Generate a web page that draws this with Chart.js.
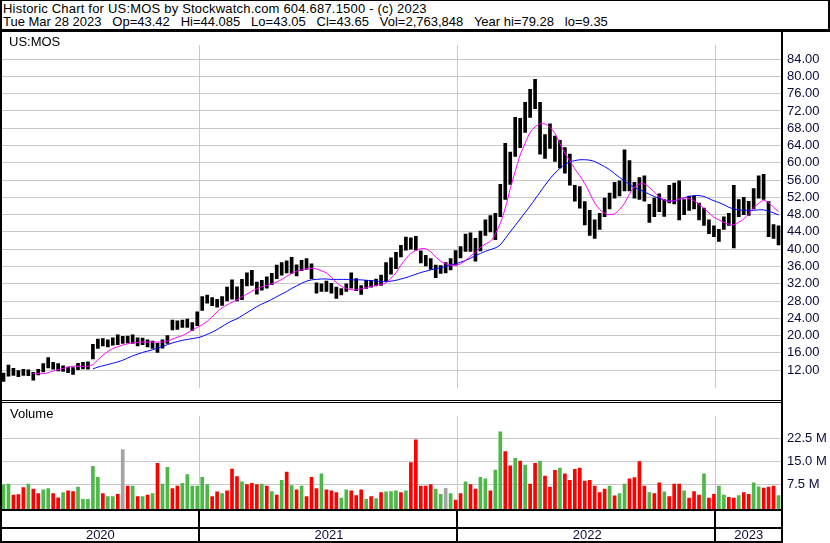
<!DOCTYPE html>
<html>
<head>
<meta charset="utf-8">
<title>US:MOS</title>
<script src="https://cdn.jsdelivr.net/npm/chart.js@4.4.1/dist/chart.umd.min.js"></script>
<style>
  body { margin: 0; background: #fff; }
  #page { position: relative; width: 830px; height: 543px; overflow: hidden; font-family: Arial, "Liberation Sans", sans-serif; font-size: 13px; color: #000; }
  .txt { position: absolute; white-space: pre; line-height: 14px; }
  .ln { position: absolute; background: #000; }
  canvas { position: absolute; left: 0; }
</style>
</head>
<body>
<div id="page">
  <canvas id="priceChart" width="830" height="371" style="top:31px"></canvas>
  <canvas id="volChart" width="830" height="141" style="top:402px"></canvas>

  <div class="txt" style="left:3px;top:2px;letter-spacing:0.2px">Historic Chart for US:MOS by Stockwatch.com 604.687.1500 - (c) 2023</div>
  <div class="txt" style="left:3px;top:15px">Tue Mar 28 2023   Op=43.42   Hi=44.085   Lo=43.05   Cl=43.65   Vol=2,763,848   Year hi=79.28   lo=9.35</div>
  <div class="txt" style="left:9px;top:35px">US:MOS</div>
  <div class="txt" style="left:10px;top:407px">Volume</div>

  <!-- frame lines -->
  <div class="ln" style="left:0;top:0;width:830px;height:1px"></div>
  <div class="ln" style="left:828px;top:0;width:2px;height:31px"></div>
  <div class="ln" style="left:0;top:29px;width:830px;height:3px"></div>
  <div class="ln" style="left:0;top:0;width:2px;height:543px"></div>
  <div class="ln" style="left:781px;top:31px;width:2px;height:512px"></div>
  <div class="ln" style="left:0;top:400px;width:782px;height:1px"></div>
  <div class="ln" style="left:0;top:402px;width:782px;height:1px"></div>
  <div class="ln" style="left:0;top:509px;width:782px;height:2px"></div>
  <div class="ln" style="left:0;top:527px;width:782px;height:2px"></div>
  <div class="ln" style="left:0;top:541px;width:782px;height:2px"></div>
</div>

<script>
// weekly lows / highs (one value per week from 2020-03-30)
const lo = [9.4,10.6,10.8,10.5,10.8,10.7,9.7,10.9,11.6,12.5,
  12.2,11.8,11.7,11.4,11.0,12.1,12.3,12.2,14.6,17.0,
  17.6,17.4,17.8,17.9,18.2,18.3,18.2,17.6,17.9,17.4,
  17.0,16.1,17.1,18.2,21.3,21.4,21.9,21.9,21.2,22.3,
  25.8,27.5,26.9,26.6,27.0,28.0,28.4,28.0,28.3,31.5,
  31.6,29.6,30.5,31.0,31.8,33.2,34.0,34.5,34.4,33.8,
  35.0,35.3,33.2,29.8,30.2,30.2,29.8,28.6,29.4,30.2,
  31.0,30.4,29.5,30.9,31.2,31.5,31.6,32.7,34.2,35.5,
  38.2,39.8,40.0,39.8,36.8,36.1,35.3,33.4,34.4,34.5,
  35.2,36.3,38.0,39.5,39.5,37.2,39.6,43.2,44.0,42.2,
  47.5,51.5,55.0,61.5,63.5,67.0,70.5,72.5,62.0,61.0,
  63.3,60.3,58.8,57.6,54.8,51.1,49.5,45.6,43.2,42.5,
  44.6,47.5,49.3,51.8,52.3,53.5,53.5,51.8,51.5,51.1,
  46.2,47.5,48.7,47.6,50.7,50.5,46.8,48.0,49.0,49.3,
  46.8,45.5,43.6,42.9,41.8,44.6,45.5,40.3,47.5,48.0,
  47.8,49.3,51.8,51.5,42.9,42.5,41.0]

const hi = [11.3,13.2,12.4,11.9,12.2,12.1,11.5,12.2,13.5,14.9,
  13.8,13.5,13.0,12.7,12.6,13.6,13.8,13.9,18.0,19.2,
  19.3,19.0,19.5,20.2,19.8,19.9,20.2,19.5,19.4,19.0,
  18.7,18.2,19.0,20.0,23.6,23.4,23.6,23.8,23.0,25.5,
  29.0,29.4,28.8,28.4,29.0,31.2,32.9,31.3,33.0,34.5,
  35.1,32.4,32.8,33.6,34.4,36.3,36.9,37.3,38.1,36.4,
  37.4,37.8,36.6,32.2,32.0,32.6,32.1,31.2,30.9,32.0,
  34.5,33.2,31.6,32.8,32.8,33.1,34.0,36.9,38.0,39.3,
  40.9,42.8,42.6,43.0,39.6,38.6,37.8,36.3,36.2,36.9,
  37.8,39.7,40.6,43.5,43.8,42.5,44.2,46.8,47.8,48.3,
  55.0,64.5,62.5,70.5,70.3,74.0,77.0,79.3,74.0,66.5,
  69.0,66.2,65.2,63.5,62.0,54.8,54.5,51.0,49.0,46.8,
  48.3,51.8,53.0,55.5,55.8,63.0,60.5,55.5,56.6,57.0,
  50.4,51.8,52.8,51.5,54.8,55.3,55.8,51.5,52.3,52.3,
  50.7,49.5,46.8,45.4,44.6,47.5,48.3,54.8,51.5,52.0,
  51.1,54.0,57.0,57.3,51.0,45.7,45.4]

// magenta (short) and blue (long) moving averages as drawn
const maFast = [null,null,null,null,null,null,11.2,11.2,11.2,11.4,
  11.8,12.1,12.4,12.7,12.9,12.9,12.9,12.9,13.3,14.4,
  15.4,16.3,17.0,17.4,17.8,18.1,18.3,18.4,18.5,18.5,
  18.5,18.5,18.5,18.7,19.2,19.6,20.0,20.6,21.3,21.9,
  22.5,23.3,24.3,25.5,26.4,27.1,27.7,28.3,29.0,29.6,
  30.3,30.8,31.3,31.6,32.0,32.4,33.0,33.7,34.4,34.9,
  35.2,35.5,35.6,35.4,35.0,34.5,33.5,32.3,31.4,30.9,
  30.6,30.6,30.8,31.1,31.4,31.6,31.9,32.2,33.3,34.5,
  36.3,37.8,39.0,39.7,40.1,40.1,39.4,38.2,37.2,36.6,
  36.3,36.3,36.6,37.4,38.4,39.3,40.4,41.2,41.8,43.5,
  46.0,49.5,54.0,58.0,61.8,64.5,67.0,68.3,69.0,69.0,
  68.2,66.8,64.5,62.2,60.5,58.6,57.0,55.2,53.0,50.7,
  49.2,48.3,48.0,48.2,49.2,50.6,52.8,54.4,55.1,55.1,
  54.3,53.2,52.1,51.4,51.1,51.2,51.6,51.9,51.7,51.2,
  50.4,49.4,48.4,47.4,46.8,46.2,45.8,45.7,46.2,47.0,
  48.2,49.6,50.6,51.3,50.8,49.7,48.7]

const maSlow = [null,null,null,null,null,null,null,null,null,null,
  null,null,null,null,null,null,null,null,12.3,12.7,
  13.0,13.3,13.6,13.9,14.3,14.8,15.3,15.7,16.1,16.4,
  16.7,17.1,17.5,17.9,18.3,18.6,18.9,19.1,19.3,19.5,
  19.8,20.3,20.8,21.4,22.1,22.8,23.4,23.9,24.6,25.3,
  26.0,26.7,27.3,27.8,28.4,29.0,29.6,30.2,30.9,31.5,
  32.1,32.6,32.9,33.0,33.1,33.1,33.0,33.0,33.0,33.0,
  32.9,32.9,32.9,32.8,32.7,32.6,32.5,32.5,32.6,32.8,
  33.1,33.4,33.8,34.2,34.6,34.9,35.2,35.5,35.7,36.0,
  36.3,36.6,37.0,37.4,37.9,38.5,39.0,39.5,39.9,40.3,
  41.0,42.5,44.0,45.5,47.0,48.5,50.0,51.6,53.2,54.8,
  56.3,57.6,58.7,59.6,60.2,60.5,60.7,60.7,60.6,60.3,
  59.7,59.1,58.4,57.5,56.6,55.8,55.0,54.3,53.8,53.3,
  52.7,52.2,51.8,51.4,51.1,51.2,51.5,51.9,52.2,52.4,
  52.4,52.2,51.7,51.2,50.8,50.3,49.7,49.3,49.1,49.0,
  49.0,49.0,49.1,49.1,48.8,48.4,47.9]

// volume in millions, and day direction (u = up, d = down, n = unchanged)
const vol = [7.2,7.5,3.9,4.0,6.3,7.5,5.8,4.4,5.6,6.0,
  4.4,3.0,4.7,5.3,5.0,6.5,2.5,2.5,13.3,9.7,
  4.4,3.4,3.4,4.1,18.8,6.8,6.8,3.4,3.4,3.9,
  4.4,14.3,7.5,13.0,6.0,6.8,7.7,10.6,6.8,6.8,
  9.7,7.3,3.4,4.9,4.4,5.3,12.4,9.9,8.2,7.3,
  7.7,7.3,7.5,6.8,5.0,3.9,8.7,11.4,7.0,5.6,
  6.8,3.4,9.7,6.0,10.8,5.6,5.3,4.7,2.9,5.6,
  5.3,3.7,5.6,2.5,3.4,2.7,4.7,4.9,5.0,5.3,
  4.7,5.3,14.5,22.0,6.8,6.8,7.3,5.8,4.1,6.1,
  4.4,2.2,4.4,8.2,7.3,5.8,9.7,9.2,5.3,12.1,
  24.6,18.1,13.5,15.9,15.0,13.7,7.5,14.3,15.0,10.1,
  6.5,12.0,12.7,10.8,8.7,12.3,12.7,8.5,8.7,6.8,
  4.7,5.8,6.8,3.6,4.4,7.5,9.2,9.6,14.9,6.8,
  4.7,4.4,7.9,4.9,3.4,7.5,7.5,5.3,2.9,5.0,
  3.9,10.8,2.9,4.1,6.8,3.9,3.1,2.9,3.7,4.7,
  4.1,7.9,6.6,6.2,6.5,6.8,3.7]

const volDir = ('uudddudduu' + 'ddudduuuuu' + 'duudndudud' + 'uduudduuuu' +
  'uuddudddud' + 'ddudududud' + 'uddduddduu' + 'dddududuuu' +
  'duddddduun' + 'uddudduudu' + 'uddududdud' + 'dduddddddd' +
  'dduduudddd' + 'uddudddudd' + 'dudduuddud' + 'duudddu').split('')

const priceTicks = [12, 16, 20, 24, 28, 32, 36, 40, 44, 48, 52, 56, 60, 64, 68, 72, 76, 80, 84]
const volTicks = [7.5, 15, 22.5]

// week labels (Mondays)
const firstWeek = Date.UTC(2020, 2, 30)
const weeks = lo.map((_, i) => new Date(firstWeek + i * 7 * 864e5).toISOString().slice(0, 10))

// year boundaries taken from the week labels
const years = []
const yearEdges = [-0.5]
weeks.forEach((w, i) => {
    const y = w.slice(0, 4)
    if (years[years.length - 1] !== y) {
        if (i > 0) yearEdges.push(i - 0.5)
        years.push(y)
    }
})
yearEdges.push(weeks.length - 0.5)

const gridGray = '#c8c8c8'
const labelColor = '#0c0c3c'
const volColors = { u: '#4db848', d: '#ff0000', n: '#a4a4a4' }

Chart.defaults.font.family = 'Arial, "Liberation Sans", sans-serif'
Chart.defaults.font.size = 13
Chart.defaults.animation = false

// gray vertical lines at the year changes
const yearGrid = {
    id: 'yearGrid',
    beforeDatasetsDraw(chart) {
        const { ctx, chartArea: a, scales: { x } } = chart
        ctx.save()
        ctx.strokeStyle = gridGray
        ctx.lineWidth = 1
        yearEdges.slice(1, -1).forEach(v => {
            const px = Math.round(x.getPixelForValue(v)) - 0.5
            ctx.beginPath()
            ctx.moveTo(px, a.top)
            ctx.lineTo(px, a.bottom)
            ctx.stroke()
        })
        ctx.restore()
    }
}

// the two rows under the volume panel with the year names
const yearRow = {
    id: 'yearRow',
    afterDraw(chart) {
        const { ctx, chartArea: a, scales: { x } } = chart
        const px = yearEdges.map(v => x.getPixelForValue(v))
        ctx.save()
        ctx.fillStyle = '#000'
        px.slice(1, -1).forEach(p => ctx.fillRect(Math.round(p) - 2, a.bottom, 2, chart.height - a.bottom - 2))
        ctx.fillStyle = labelColor
        ctx.font = '13px Arial, "Liberation Sans", sans-serif'
        ctx.textAlign = 'center'
        ctx.textBaseline = 'alphabetic'
        years.forEach((y, k) => ctx.fillText(y, (px[k] + px[k + 1]) / 2, a.bottom + 30))
        ctx.restore()
    }
}

function rightAxis(min, max, ticks, fmt) {
    return {
        position: 'right',
        min: min,
        max: max,
        afterBuildTicks: s => { s.ticks = ticks.map(v => ({ value: v })) },
        afterFit: s => { s.width = 49 },
        grid: { color: gridGray, drawTicks: false },
        border: { display: false },
        ticks: { color: labelColor, padding: 6, callback: fmt }
    }
}

new Chart(document.getElementById('priceChart'), {
    type: 'bar',
    data: {
        labels: weeks,
        datasets: [
            { type: 'line', data: maFast, borderColor: '#ff00ff', borderWidth: 1, pointRadius: 0, tension: 0.3, order: 0 },
            { type: 'line', data: maSlow, borderColor: '#0000ff', borderWidth: 1, pointRadius: 0, tension: 0.3, order: 0 },
            { data: lo.map((l, i) => [l, hi[i]]), backgroundColor: '#000', barThickness: 3, order: 1 }
        ]
    },
    options: {
        responsive: false,
        devicePixelRatio: 1,
        layout: { padding: { top: 2, bottom: 2, left: 1, right: 0 } },
        plugins: { legend: { display: false }, tooltip: { enabled: false } },
        scales: {
            x: { display: false },
            y: rightAxis(7.82, 87.31, priceTicks, v => v.toFixed(2))
        }
    },
    plugins: [yearGrid]
})

new Chart(document.getElementById('volChart'), {
    type: 'bar',
    data: {
        labels: weeks,
        datasets: [{
            data: vol,
            base: -0.7,
            backgroundColor: volDir.map(d => volColors[d]),
            barThickness: 3
        }]
    },
    options: {
        responsive: false,
        devicePixelRatio: 1,
        layout: { padding: { top: 1, bottom: 34, left: 1, right: 0 } },
        plugins: { legend: { display: false }, tooltip: { enabled: false } },
        scales: {
            x: { display: false },
            y: rightAxis(-0.7, 29.88, volTicks, v => v.toFixed(1) + ' M')
        }
    },
    plugins: [yearGrid, yearRow]
})
</script>
</body>
</html>
